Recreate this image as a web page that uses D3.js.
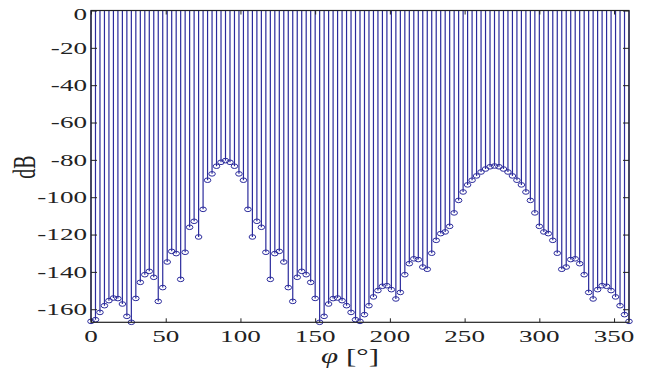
<!DOCTYPE html>
<html>
<head>
<meta charset="utf-8">
<script src="https://cdn.jsdelivr.net/npm/d3@7"></script>
<style>
  html, body { margin: 0; padding: 0; background: #fff; }
  svg { display: block; }
</style>
</head>
<body>
<svg id="chart" width="648" height="374"></svg>
<script>
// Azimuth angles (degrees) and received level (dB) at each angle
const angles = [
  0, 3, 6, 9, 12, 15, 18, 21, 24, 27, 30, 33, 36, 39, 42, 45, 48, 51, 54, 57,
  60, 63, 66, 69, 72, 75, 78, 81, 84, 87, 90, 93, 96, 99, 102, 105, 108, 111, 114, 117,
  120, 123, 126, 129, 132, 135, 138, 141, 144, 147, 150, 153, 156, 159, 162, 165, 168, 171, 174, 177,
  180, 183, 186, 189, 192, 195, 198, 201, 204, 207, 210, 213, 216, 219, 222, 225, 228, 231, 234, 237,
  240, 243, 246, 249, 252, 255, 258, 261, 264, 267, 270, 273, 276, 279, 282, 285, 288, 291, 294, 297,
  300, 303, 306, 309, 312, 315, 318, 321, 324, 327, 330, 333, 336, 339, 342, 345, 348, 351, 354, 357,
  360
];
const levels = [
  -166.5, -165.6, -161.7, -158.1, -155.4, -154.0, -154.3, -157.2, -163.8, -167.0,
  -154.2, -145.6, -141.5, -139.7, -142.9, -155.8, -148.4, -134.7, -129.0, -130.2,
  -144.0, -129.5, -116.1, -112.9, -121.3, -106.5, -90.9, -87.5, -83.4, -81.3,
  -80.4, -81.3, -83.4, -87.5, -90.9, -106.5, -121.3, -112.9, -116.1, -129.5,
  -144.0, -130.2, -129.0, -134.7, -148.4, -155.8, -142.9, -139.7, -141.5, -145.6,
  -154.2, -167.0, -163.8, -157.2, -154.3, -154.0, -155.4, -158.1, -161.7, -165.6,
  -166.5, -162.9, -158.1, -153.4, -150.0, -147.7, -147.4, -149.5, -154.5, -151.0,
  -141.5, -135.6, -133.0, -133.4, -137.4, -138.6, -130.0, -123.1, -119.5, -118.6,
  -115.6, -108.4, -101.7, -97.2, -93.4, -90.9, -88.6, -86.5, -84.9, -83.7,
  -83.3, -83.7, -84.9, -86.5, -88.6, -90.9, -93.4, -97.2, -101.7, -108.4,
  -115.6, -118.6, -119.5, -123.1, -130.0, -138.6, -137.4, -133.4, -133.0, -135.6,
  -141.5, -151.0, -154.5, -149.5, -147.4, -147.7, -150.0, -153.4, -158.1, -162.9,
  -166.5
];
const xTicks = [0, 50, 100, 150, 200, 250, 300, 350];
const yTicks = [0, -20, -40, -60, -80, -100, -120, -140, -160];

const frame = { left: 91, right: 629, top: 10.5, bottom: 322.3 };
const stemColor = "#2b2b9c";
const axisColor = "#222";
const stretch = 1.55;          // glyphs are drawn wide
const fontFamily = "'Liberation Serif', 'Times New Roman', serif";

const x = d3.scaleLinear().domain([0, 360]).range([frame.left, frame.right]);
const y = d3.scaleLinear().domain([-167, 0]).range([frame.bottom, frame.top]);

const svg = d3.select("#chart");
const pts = angles.map((a, i) => ({ a, v: levels[i] }));

// stems hanging from the 0 dB baseline
svg.append("g")
  .selectAll("line")
  .data(pts)
  .join("line")
  .attr("x1", d => x(d.a))
  .attr("x2", d => x(d.a))
  .attr("y1", y(0))
  .attr("y2", d => y(d.v))
  .attr("stroke", stemColor)
  .attr("stroke-width", 1.2);

// open markers
svg.append("g")
  .selectAll("ellipse")
  .data(pts)
  .join("ellipse")
  .attr("cx", d => x(d.a))
  .attr("cy", d => y(d.v))
  .attr("rx", 3.3)
  .attr("ry", 2.3)
  .attr("fill", "none")
  .attr("stroke", stemColor)
  .attr("stroke-width", 1);

// box axes with inward ticks
const tickStyle = g => {
  g.select(".domain").remove();
  g.selectAll("line").attr("stroke", axisColor).attr("stroke-width", 1);
  g.selectAll("text").remove();
};
svg.append("g").attr("transform", `translate(0,${frame.bottom})`)
  .call(d3.axisBottom(x).tickValues(xTicks).tickSizeInner(-4).tickSizeOuter(0)).call(tickStyle);
svg.append("g").attr("transform", `translate(0,${frame.top})`)
  .call(d3.axisTop(x).tickValues(xTicks).tickSizeInner(-4).tickSizeOuter(0)).call(tickStyle);
svg.append("g").attr("transform", `translate(${frame.left},0)`)
  .call(d3.axisLeft(y).tickValues(yTicks).tickSizeInner(-6).tickSizeOuter(0)).call(tickStyle);
svg.append("g").attr("transform", `translate(${frame.right},0)`)
  .call(d3.axisRight(y).tickValues(yTicks).tickSizeInner(-6).tickSizeOuter(0)).call(tickStyle);

svg.append("rect")
  .attr("x", frame.left).attr("y", frame.top)
  .attr("width", frame.right - frame.left)
  .attr("height", frame.bottom - frame.top)
  .attr("fill", "none")
  .attr("stroke", axisColor)
  .attr("stroke-width", 1.2);

// tick labels
const labels = svg.append("g")
  .attr("font-family", fontFamily)
  .attr("font-size", 17.5)
  .attr("fill", "#222");

labels.selectAll("text.xl")
  .data(xTicks)
  .join("text")
  .attr("class", "xl")
  .attr("transform", d => `translate(${x(d)},341.7) scale(${stretch},1)`)
  .attr("text-anchor", "middle")
  .text(d => d);

labels.selectAll("text.yl")
  .data(yTicks)
  .join("text")
  .attr("class", "yl")
  .attr("transform", d => `translate(87,${Math.max(y(d), 13.8) + 5.9}) scale(${stretch},1)`)
  .attr("text-anchor", "end")
  .text(d => d);

// axis titles
const xTitle = svg.append("text")
  .attr("font-family", fontFamily)
  .attr("font-size", 20)
  .attr("fill", "#222")
  .attr("text-anchor", "middle")
  .attr("transform", `translate(350,363) scale(${stretch},1)`);
xTitle.append("tspan").attr("font-style", "italic").text("\u03C6");
xTitle.append("tspan").text(" [\u00B0]");

svg.append("text")
  .attr("font-family", fontFamily)
  .attr("font-size", 20)
  .attr("fill", "#222")
  .attr("text-anchor", "middle")
  .attr("transform", `translate(35,167) scale(${stretch},1) rotate(-90)`)
  .text("dB");
</script>
</body>
</html>
